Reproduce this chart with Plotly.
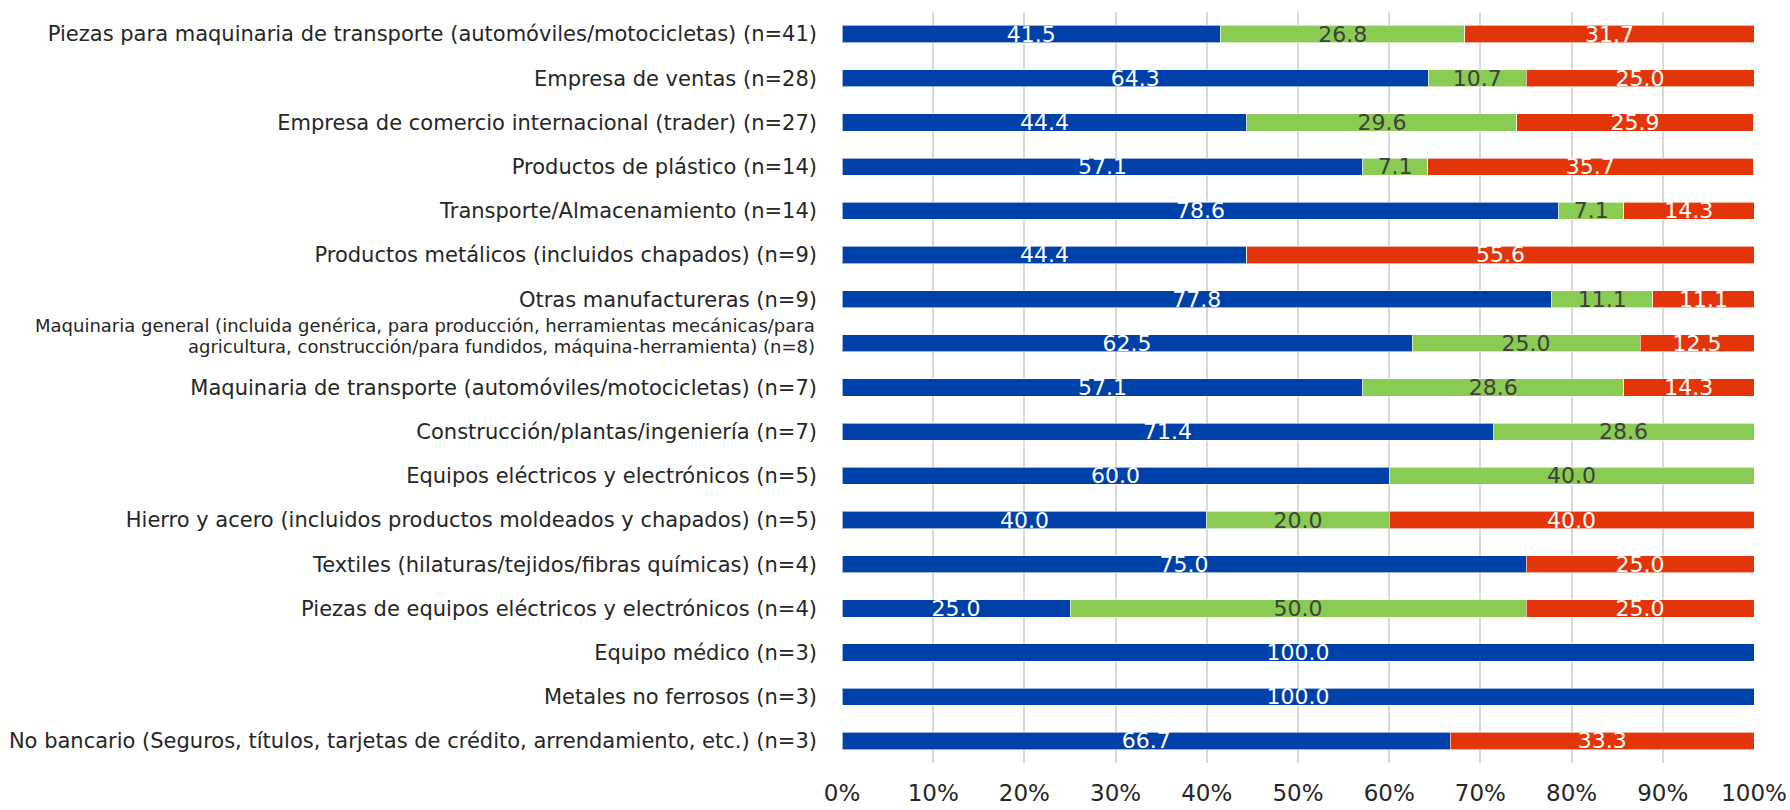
import plotly.graph_objects as go

categories = [
    "Piezas para maquinaria de transporte (automóviles/motocicletas) (n=41)",
    "Empresa de ventas (n=28)",
    "Empresa de comercio internacional (trader) (n=27)",
    "Productos de plástico (n=14)",
    "Transporte/Almacenamiento (n=14)",
    "Productos metálicos (incluidos chapados) (n=9)",
    "Otras manufactureras (n=9)",
    "Maquinaria general (incluida genérica, para producción, herramientas mecánicas/para agricultura, construcción/para fundidos, máquina-herramienta) (n=8)",
    "Maquinaria de transporte (automóviles/motocicletas) (n=7)",
    "Construcción/plantas/ingeniería (n=7)",
    "Equipos eléctricos y electrónicos (n=5)",
    "Hierro y acero (incluidos productos moldeados y chapados) (n=5)",
    "Textiles (hilaturas/tejidos/fibras químicas) (n=4)",
    "Piezas de equipos eléctricos y electrónicos (n=4)",
    "Equipo médico (n=3)",
    "Metales no ferrosos (n=3)",
    "No bancario (Seguros, títulos, tarjetas de crédito, arrendamiento, etc.) (n=3)",
]

# the long category label is drawn on two lines
long_label_lines = [
    "Maquinaria general (incluida genérica, para producción, herramientas mecánicas/para",
    "agricultura, construcción/para fundidos, máquina-herramienta) (n=8)",
]

mejorar = [41.5, 64.3, 44.4, 57.1, 78.6, 44.4, 77.8, 62.5, 57.1, 71.4, 60.0, 40.0, 75.0, 25.0, 100.0, 100.0, 66.7]
sin_cambios = [26.8, 10.7, 29.6, 7.1, 7.1, 0.0, 11.1, 25.0, 28.6, 28.6, 40.0, 20.0, 0.0, 50.0, 0.0, 0.0, 0.0]
empeorar = [31.7, 25.0, 25.9, 35.7, 14.3, 55.6, 11.1, 12.5, 14.3, 0.0, 0.0, 40.0, 25.0, 25.0, 0.0, 0.0, 33.3]

series = [
    ("Mejorar", mejorar, "#0041A9", "white"),
    ("Sin cambios", sin_cambios, "#89CB53", "#404040"),
    ("Empeorar", empeorar, "#E2360A", "white"),
]

FONT = "Verdana, DejaVu Sans, sans-serif"
LONG_CAT = categories[7]

tick_text = ["" if c == LONG_CAT else c for c in categories]

fig = go.Figure()
for name, vals, color, tcolor in series:
    fig.add_trace(go.Bar(
        name=name,
        y=categories,
        x=vals,
        orientation="h",
        marker=dict(color=color, line=dict(color="rgba(255,255,255,0.6)", width=1)),
        text=[f"{v:.1f}" if v > 0 else "" for v in vals],
        textposition="inside",
        insidetextanchor="middle",
        textangle=0,
        textfont=dict(family=FONT, size=22, color=tcolor),
        showlegend=False,
        hoverinfo="skip",
    ))

for line, shift in zip(long_label_lines, [18, -3]):
    fig.add_annotation(
        text=line,
        xref="paper", x=0, xanchor="right", xshift=-25,
        yref="y", y=LONG_CAT, yanchor="middle", yshift=shift,
        showarrow=False,
        font=dict(family=FONT, size=18, color="#262626"),
    )

fig.update_layout(
    barmode="stack",
    bargap=0.61,
    width=1790,
    height=810,
    margin=dict(l=842, r=36, t=12, b=47),
    plot_bgcolor="white",
    paper_bgcolor="white",
    font=dict(family=FONT, size=21, color="#262626"),
    uniformtext=dict(minsize=22, mode="show"),
    xaxis=dict(
        range=[0, 100],
        dtick=10,
        tick0=0,
        ticksuffix="%",
        showgrid=True,
        gridcolor="#D9D9D9",
        gridwidth=1.5,
        zeroline=False,
        showline=False,
        tickfont=dict(family=FONT, size=23, color="#262626"),
        ticklabelstandoff=14,
        fixedrange=True,
        automargin=False,
    ),
    yaxis=dict(
        autorange="reversed",
        tickmode="array",
        tickvals=categories,
        ticktext=tick_text,
        showgrid=False,
        showline=False,
        zeroline=False,
        tickfont=dict(family=FONT, size=21, color="#262626"),
        ticklabelstandoff=24,
        fixedrange=True,
        automargin=False,
    ),
)

fig.write_html(
    "out.html",
    config={"displayModeBar": False},
    post_script="document.body.style.margin='0';document.body.style.overflow='hidden';",
)
